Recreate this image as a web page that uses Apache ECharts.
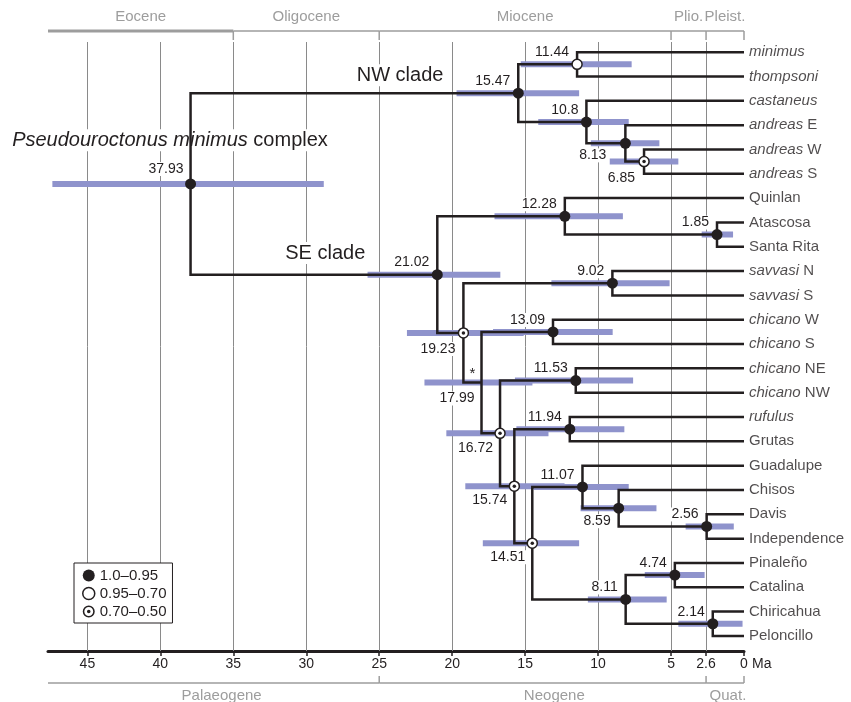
<!DOCTYPE html>
<html>
<head>
<meta charset="utf-8">
<script src="https://cdn.jsdelivr.net/npm/echarts@6/dist/echarts.min.js"></script>
<style>
html,body{margin:0;padding:0;background:#fff}
#chart{width:851px;height:702px}
</style>
</head>
<body>
<div id="chart"></div>
<script>
var FONT = "'Liberation Sans', Arial, Helvetica, sans-serif";
var INK = '#231f20';
var HPD = '#8f93cc';
var GEO = '#9d9d9d';

// tips, top to bottom
var tipNames = ['{i|minimus}','{i|thompsoni}','{i|castaneus}','{i|andreas} E','{i|andreas} W','{i|andreas} S',
  'Quinlan','Atascosa','Santa Rita','{i|savvasi} N','{i|savvasi} S','{i|chicano} W','{i|chicano} S',
  '{i|chicano} NE','{i|chicano} NW','{i|rufulus}','Grutas','Guadalupe','Chisos','Davis','Independence',
  'Pinaleño','Catalina','Chiricahua','Peloncillo'];

// internal nodes (numbers in children = tip index)
var nodeIds = ['root','NW','n1144','n1080','n813','n685','SE','n1228','n185','n1923','n902','n1799',
  'n1309','n1672','n1153','n1574','n1194','n1451','n1107','n859','n256','n811','n474','n214'];
var nodeChildren = [['NW','SE'],['n1144','n1080'],[0,1],[2,'n813'],[3,'n685'],[4,5],['n1228','n1923'],
  [6,'n185'],[7,8],['n902','n1799'],[9,10],['n1309','n1672'],[11,12],['n1153','n1574'],[13,14],
  ['n1194','n1451'],[15,16],['n1107','n811'],[17,'n859'],[18,'n256'],[19,20],['n474','n214'],[21,22],[23,24]];
var nodeAges = [37.93,15.47,11.44,10.8,8.13,6.85,21.02,12.28,1.85,19.23,9.02,17.99,13.09,16.72,11.53,
  15.74,11.94,14.51,11.07,8.59,2.56,8.11,4.74,2.14];
var hpdOld = [47.4,19.7,15.3,14.1,10.5,9.2,25.8,17.1,2.9,23.1,13.2,21.9,17.2,20.4,15.7,19.1,15.6,17.9,
  14.4,11.2,4.0,10.7,6.8,4.5];
var hpdYoung = [28.8,11.3,7.7,7.9,5.8,4.5,16.7,8.3,0.75,15.1,5.1,14.5,9.0,13.4,7.6,12.3,8.2,11.3,
  7.9,6.0,0.7,5.3,2.7,0.1];
// high = 1.0-0.95, mid = 0.95-0.70, low = 0.70-0.50, none = below
var nodeSupport = ['high','high','mid','high','high','low','high','high','high','low','high','none',
  'high','low','high','low','high','low','high','high','high','high','high','high'];

var tickVals = [45,40,35,30,25,20,15,10,5,2.6,0];
var gridVals = [45,40,35,30,25,20,15,10,5,2.6];
var epochNames = ['Eocene','Oligocene','Miocene','Plio.','Pleist.'];
var epochStart = [47.7,35,25,5,2.6];
var epochEnd = [35,25,5,2.6,0];
var periodNames = ['Palaeogene','Neogene','Quat.'];
var periodStart = [47.7,25,2.6];
var periodEnd = [25,2.6,0];

// label layout
var periodLabelAt = [35.8,13.0,1.1];
var belowOffset = {n813:[-18,12], n685:[-8,17], n1923:[-7,16], n1799:[-6,16], n1672:[-6,15],
  n1574:[-6,14], n859:[-7,13], n1451:[-6,14]};
var cladeText = ['NW clade','SE clade','{i|Pseudouroctonus minimus} complex'];
var cladeAt = [[23.57,0.95],[28.7,8.26],[39.34,3.62]];

var legendNames = {high:'1.0–0.95', mid:'0.95–0.70', low:'0.70–0.50'};

var nodeIndex = {};
nodeIds.forEach(function(id,i){ nodeIndex[id] = i; });
function yOf(c){
  if (typeof c === 'number') return c;
  var ch = nodeChildren[nodeIndex[c]];
  return (yOf(ch[0]) + yOf(ch[1])) / 2;
}
function ageOf(c){ return typeof c === 'number' ? 0 : nodeAges[nodeIndex[c]]; }

var branchData = nodeIds.map(function(id,i){
  var a = nodeAges[i], c0 = nodeChildren[i][0], c1 = nodeChildren[i][1];
  return {coords:[[ageOf(c0),yOf(c0)],[a,yOf(c0)],[a,yOf(c1)],[ageOf(c1),yOf(c1)]]};
});
function nodesOf(level){
  var out = [];
  nodeIds.forEach(function(id,i){ if (nodeSupport[i] === level) out.push([nodeAges[i], yOf(id)]); });
  return out;
}

var ringDot = 'path://M10,0A10,10 0 1,1 10,20A10,10 0 1,1 10,0Z M10,2.6A7.4,7.4 0 1,0 10,17.4A7.4,7.4 0 1,0 10,2.6Z M10,7A3,3 0 1,1 10,13A3,3 0 1,1 10,7Z';

var myChart = echarts.init(document.getElementById('chart'), null, {renderer:'canvas'});

var option = {
  animation:false,
  backgroundColor:'#fff',
  textStyle:{fontFamily:FONT},
  grid:{left:48, right:107, top:40, bottom:51},
  xAxis:{
    type:'value', min:0, max:47.7, inverse:true, position:'bottom',
    axisLine:{onZero:false, lineStyle:{color:INK, width:3}},
    axisTick:{customValues:tickVals, length:5, lineStyle:{color:INK, width:1.5}},
    axisLabel:{customValues:tickVals, margin:6, fontSize:14, color:INK, fontFamily:FONT},
    splitLine:{show:false}
  },
  yAxis:{type:'value', min:-0.5, max:24.62, inverse:true, show:false},
  legend:{
    left:74, top:563, orient:'vertical', selectedMode:false,
    data:[
      {name:legendNames.high, icon:'circle'},
      {name:legendNames.mid, icon:'circle', itemStyle:{color:'#fff', borderColor:INK, borderWidth:1.5}},
      {name:legendNames.low, icon:ringDot, itemStyle:{color:INK, borderWidth:0}}
    ],
    itemWidth:12, itemHeight:12, itemGap:3, padding:[5,6,4,8],
    borderColor:INK, borderWidth:1, backgroundColor:'#fff',
    textStyle:{fontSize:15, color:INK, fontFamily:FONT}, z:10
  },
  series:[
    { // vertical grid lines
      type:'custom', silent:true, z:1,
      data:gridVals.map(function(v){ return [v,0]; }),
      renderItem:function(params, api){
        var x = Math.round(api.coord([api.value(0),0])[0]) + 0.5;
        var cs = params.coordSys;
        return {type:'line', shape:{x1:x, y1:cs.y + 2, x2:x, y2:cs.y + cs.height},
          style:{stroke:'#8a8a8a', lineWidth:1}};
      }
    },
    { // epochs on top
      type:'custom', silent:true, z:1,
      data:epochStart.map(function(s,i){ return [s,0,epochEnd[i]]; }),
      renderItem:function(params, api){
        var x1 = api.coord([api.value(0),0])[0], x2 = api.coord([api.value(2),0])[0];
        var y = params.coordSys.y - 9;
        var i = params.dataIndex;
        return {type:'group', children:[
          {type:'line', shape:{x1:x1, y1:y, x2:x2, y2:y}, style:{stroke:GEO, lineWidth:i === 0 ? 3 : 1.5}},
          {type:'line', shape:{x1:x2, y1:y, x2:x2, y2:y + 9}, style:{stroke:GEO, lineWidth:1.5}},
          {type:'text', x:(x1 + x2) / 2, y:y - 14, style:{text:epochNames[i], align:'center',
            verticalAlign:'middle', fontSize:15, fontFamily:FONT, fill:GEO}}
        ]};
      }
    },
    { // periods on bottom
      type:'custom', silent:true, z:1,
      data:periodStart.map(function(s,i){ return [s,0,periodEnd[i]]; }),
      renderItem:function(params, api){
        var x1 = api.coord([api.value(0),0])[0], x2 = api.coord([api.value(2),0])[0];
        var i = params.dataIndex;
        var xl = api.coord([periodLabelAt[i],0])[0];
        var cs = params.coordSys;
        var y = cs.y + cs.height + 32;
        return {type:'group', children:[
          {type:'line', shape:{x1:x1, y1:y, x2:x2, y2:y}, style:{stroke:GEO, lineWidth:1.5}},
          {type:'line', shape:{x1:x2, y1:y, x2:x2, y2:y - 7}, style:{stroke:GEO, lineWidth:1.5}},
          {type:'text', x:xl, y:y + 13, style:{text:periodNames[i], align:'center',
            verticalAlign:'middle', fontSize:15, fontFamily:FONT, fill:GEO}}
        ]};
      }
    },
    { // unit
      type:'custom', silent:true, z:1,
      data:[[0,0]],
      renderItem:function(params, api){
        var x = api.coord([0,0])[0];
        var cs = params.coordSys;
        return {type:'text', x:x + 8, y:cs.y + cs.height + 13, style:{text:'Ma', align:'left',
          verticalAlign:'middle', fontSize:14, fontFamily:FONT, fill:INK}};
      }
    },
    { // clade annotations
      type:'custom', silent:true, z:2,
      data:cladeAt,
      renderItem:function(params, api){
        var p = api.coord([api.value(0), api.value(1)]);
        return {type:'text', x:p[0], y:p[1], style:{text:cladeText[params.dataIndex], align:'center',
          verticalAlign:'middle', fontSize:20, fontFamily:FONT, fill:INK, backgroundColor:'#fff',
          padding:[1,2], rich:{i:{fontStyle:'italic', fontSize:20, fontFamily:FONT, fill:INK}}}};
      }
    },
    { // node ages
      type:'custom', silent:true, z:2,
      data:nodeIds.map(function(id,i){ return [nodeAges[i], yOf(id)]; }),
      renderItem:function(params, api){
        var i = params.dataIndex, id = nodeIds[i];
        var p = api.coord([api.value(0), api.value(1)]);
        var off = belowOffset[id] || (id === 'root' ? [-6,-15] : [-7,-12]);
        var kids = [{type:'text', x:p[0] + off[0], y:p[1] + off[1], style:{text:String(nodeAges[i]),
          align:'right', verticalAlign:'middle', fontSize:14, fontFamily:FONT, fill:INK,
          backgroundColor:'#fff', padding:[0,1]}}];
        if (nodeSupport[i] === 'none') {
          kids.push({type:'text', x:p[0] - 9, y:p[1] - 9, style:{text:'*', align:'center',
            verticalAlign:'middle', fontSize:15, fontFamily:FONT, fill:INK}});
        }
        return {type:'group', children:kids};
      }
    },
    { // 95% HPD bars
      type:'custom', silent:true, z:3,
      data:nodeIds.map(function(id,i){ return [hpdOld[i], yOf(id), hpdYoung[i]]; }),
      renderItem:function(params, api){
        var p1 = api.coord([api.value(0), api.value(1)]);
        var p2 = api.coord([api.value(2), api.value(1)]);
        return {type:'rect', shape:{x:p1[0], y:p1[1] - 3, width:p2[0] - p1[0], height:6},
          style:{fill:HPD}};
      }
    },
    {
      type:'lines', coordinateSystem:'cartesian2d', polyline:true, silent:true, z:4,
      data:branchData,
      lineStyle:{color:INK, width:2.5, opacity:1, join:'miter', cap:'butt'}
    },
    {
      type:'scatter', name:'tips', silent:true, z:5, symbolSize:0,
      data:tipNames.map(function(n,i){ return [0,i]; }),
      label:{show:true, position:'right', distance:5, fontSize:15, color:INK, fontFamily:FONT,
        formatter:function(p){ return tipNames[p.dataIndex]; },
        rich:{i:{fontStyle:'italic', fontSize:15, color:INK, fontFamily:FONT}}}
    },
    {
      type:'scatter', name:legendNames.high, silent:true, z:6, symbolSize:11,
      data:nodesOf('high'), itemStyle:{color:INK, opacity:1}
    },
    {
      type:'scatter', name:legendNames.mid, silent:true, z:6, symbolSize:10,
      data:nodesOf('mid'), itemStyle:{color:'#fff', borderColor:INK, borderWidth:1.5, opacity:1}
    },
    {
      type:'scatter', name:legendNames.low, silent:true, z:6, symbolSize:10,
      data:nodesOf('low'), itemStyle:{color:'#fff', borderColor:INK, borderWidth:1.5, opacity:1}
    },
    {
      type:'scatter', name:'lowDot', silent:true, z:7, symbolSize:3.5,
      data:nodesOf('low'), itemStyle:{color:INK, opacity:1}
    }
  ]
};
myChart.setOption(option);
</script>
</body>
</html>
